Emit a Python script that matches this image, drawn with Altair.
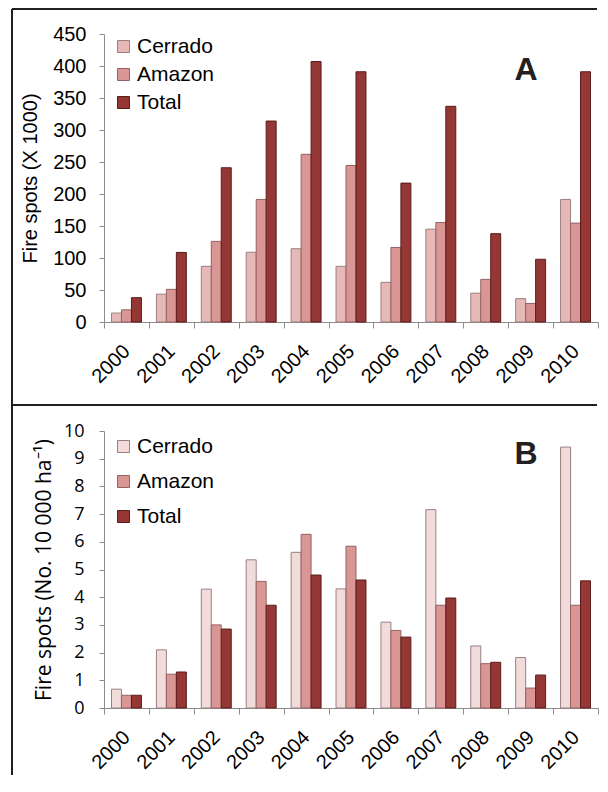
import altair as alt
import pandas as pd

years = [str(y) for y in range(2000, 2011)]
series = ["Cerrado", "Amazon", "Total"]

# Panel A: fire spots (x 1000)
a_cerrado = [14, 43.5, 87, 109, 114.5, 87, 62, 145, 45, 36.5, 191.5]
a_amazon = [19, 51, 126, 191.5, 262, 244.5, 116.5, 155.5, 66.6, 29, 154.5]
a_total = [38, 108.7, 241, 314, 407, 391, 217, 337, 138, 98, 391]

# Panel B: fire spots per 10 000 ha
b_cerrado = [0.68, 2.1, 4.29, 5.35, 5.62, 4.3, 3.1, 7.16, 2.24, 1.82, 9.42]
b_amazon = [0.46, 1.22, 3.0, 4.57, 6.27, 5.84, 2.8, 3.71, 1.6, 0.72, 3.71]
b_total = [0.46, 1.3, 2.85, 3.71, 4.8, 4.62, 2.56, 3.97, 1.65, 1.19, 4.59]

colors_a = ["#e6b9b8", "#d99694", "#953735"]
colors_b = ["#f2dcdb", "#d99694", "#953735"]
strokes = ["#9a8080", "#946262", "#5a1c1b"]

AX_GRAY = "#8c8c8c"
BORDER = "#231f20"


def long_df(c, a, t):
    return pd.DataFrame({
        "year": years * 3,
        "series": [s for s in series for _ in years],
        "value": c + a + t,
    })


one = pd.DataFrame({"k": [0]})


def panel(df, fills, ymax, yvalues, ytitle, yfont, ylabsize, ytitlesize,
          ylabpad, ytitlepad, height, leg_y, leg_rowpad, letter, letter_y,
          top_line, left_top, left_bottom):
    bars = alt.Chart(df).mark_bar(strokeWidth=1).encode(
        x=alt.X("year:N", sort=years,
                scale=alt.Scale(paddingInner=0, paddingOuter=0),
                axis=alt.Axis(title=None, labelAngle=-45, labelAlign="right",
                              labelBaseline="middle", tickBand="extent",
                              tickSize=6, labelPadding=20,
                              domainColor=AX_GRAY, tickColor=AX_GRAY,
                              labelFont="Liberation Sans", labelFontSize=20,
                              labelColor="black")),
        xOffset=alt.XOffset("series:N", sort=series,
                            scale=alt.Scale(paddingInner=0, paddingOuter=0.75)),
        y=alt.Y("value:Q", scale=alt.Scale(domain=[0, ymax], nice=False),
                axis=alt.Axis(values=yvalues, grid=False, title=ytitle,
                              tickSize=5, labelPadding=ylabpad,
                              domainColor=AX_GRAY, tickColor=AX_GRAY,
                              labelFont=yfont, labelFontSize=ylabsize,
                              labelColor="black", titleFont=yfont,
                              titleFontSize=ytitlesize, titleFontWeight="normal",
                              titleColor="black", titlePadding=ytitlepad)),
        fill=alt.Fill("series:N", sort=series,
                      scale=alt.Scale(domain=series, range=fills),
                      legend=alt.Legend(orient="none", legendX=9, legendY=leg_y,
                                        direction="vertical", title=None,
                                        symbolType="square", symbolSize=144,
                                        symbolStrokeColor="#6e5a5a",
                                        symbolStrokeWidth=1,
                                        labelFont="Liberation Sans",
                                        labelFontSize=21, labelColor="black",
                                        labelOffset=3, rowPadding=leg_rowpad,
                                        padding=0)),
        stroke=alt.Stroke("series:N", sort=series,
                          scale=alt.Scale(domain=series, range=strokes),
                          legend=None),
    )
    lab = alt.Chart(one).mark_text(text=letter, font="Liberation Sans",
                                   fontWeight="bold", fontSize=32,
                                   align="center", baseline="alphabetic",
                                   color=BORDER).encode(
        x=alt.value(422), y=alt.value(letter_y))
    top = alt.Chart(one).mark_rule(color=BORDER, strokeWidth=2).encode(
        x=alt.value(-92), x2=alt.value(493), y=alt.value(top_line))
    left = alt.Chart(one).mark_rule(color=BORDER, strokeWidth=2).encode(
        x=alt.value(-92), y=alt.value(left_top), y2=alt.value(left_bottom))
    return alt.layer(bars, lab, top, left).properties(width=494, height=height)


chart_a = panel(long_df(a_cerrado, a_amazon, a_total), colors_a, 450,
                list(range(0, 451, 50)), "Fire spots (X 1000)",
                "Liberation Sans", 20, 20, 13, 12, 288, 2, 6, "A", 46,
                -25, -25, 371)
chart_b = panel(long_df(b_cerrado, b_amazon, b_total), colors_b, 10,
                list(range(0, 11)), "Fire spots (No. 10 000 ha\u207b\u00b9)",
                "Open Sans", 18, 21, 15, 9, 277, 5, 13, "B", 33,
                -26, -26, 344)

chart = alt.vconcat(chart_a, chart_b, spacing=109, bounds="flush").resolve_scale(
    x="independent", y="independent", xOffset="independent",
    fill="independent", stroke="independent"
).properties(
    padding={"left": 3, "top": 0, "right": 0, "bottom": 0}
).configure_view(stroke=None)

chart.save("out.html", embed_options={"renderer": "svg", "actions": False})
